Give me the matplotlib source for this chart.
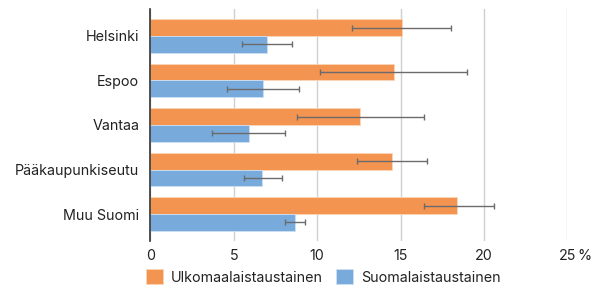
import matplotlib
matplotlib.use("Agg")
import matplotlib.pyplot as plt
import numpy as np

categories = ["Helsinki", "Espoo", "Vantaa", "Pääkaupunkiseutu", "Muu Suomi"]
series_names = ["Ulkomaalaistaustainen", "Suomalaistaustainen"]
ulko_values = [15.1, 14.6, 12.6, 14.5, 18.4]
ulko_low = [12.1, 10.2, 8.8, 12.4, 16.4]
ulko_high = [18.0, 19.0, 16.4, 16.6, 20.6]
suomi_values = [7.0, 6.75, 5.9, 6.7, 8.65]
suomi_low = [5.5, 4.6, 3.7, 5.6, 8.1]
suomi_high = [8.5, 8.9, 8.1, 7.9, 9.25]
xticks = [0, 5, 10, 15, 20, 25]
xtick_labels = ["0", "5", "10", "15", "20", "25"]
unit_label = "%"

plt.rcParams['font.family'] = ['Inter', 'DejaVu Sans']

fig = plt.figure(figsize=(5.93, 2.89), dpi=100)
ax = fig.add_axes([0.2535, 0.167, 0.9567 - 0.2535, 0.968 - 0.167])

y = np.arange(len(categories))
h = 0.38
orange = "#F39450"
blue = "#78AADB"
errc = "#6b6b6b"
txtc = "#222222"

uv = np.array(ulko_values)
sv = np.array(suomi_values)
uerr = [uv - np.array(ulko_low), np.array(ulko_high) - uv]
serr = [sv - np.array(suomi_low), np.array(suomi_high) - sv]

ax.barh(y - h / 2, uv, height=h, color=orange, edgecolor="#fbd5b8", linewidth=0.6,
        label=series_names[0], zorder=2)
ax.barh(y + h / 2, sv, height=h, color=blue, edgecolor="#cfe0f2", linewidth=0.6,
        label=series_names[1], zorder=2)
ax.errorbar(uv, y - h / 2, xerr=uerr, fmt="none", ecolor=errc, elinewidth=1.0,
            capsize=2.5, capthick=1.0, zorder=3)
ax.errorbar(sv, y + h / 2, xerr=serr, fmt="none", ecolor=errc, elinewidth=1.0,
            capsize=2.5, capthick=1.0, zorder=3)

ax.set_xlim(0, 25)
ax.set_ylim(len(categories) - 1 + 0.6, -0.6)
ax.set_yticks(y)
ax.set_yticklabels(categories, fontsize=10.3, color=txtc)
ax.set_xticks(xticks)
ax.set_xticklabels(xtick_labels, fontsize=10.3, color=txtc)
ax.tick_params(axis="both", length=0)
ax.tick_params(axis="y", pad=8)
ax.tick_params(axis="x", pad=6)
ax.annotate(unit_label, xy=(25, 0), xycoords=ax.get_xaxis_transform(),
            xytext=(7.5, -6), textcoords="offset points", ha="left", va="top",
            fontsize=10.3, color=txtc)
for s in ["top", "right", "bottom"]:
    ax.spines[s].set_visible(False)
ax.spines["left"].set_color("#333333")
ax.spines["left"].set_linewidth(1.2)
ax.spines["left"].set_zorder(4)
ax.xaxis.grid(True, color="#cfcfcf", linewidth=1.0, zorder=0)
ax.set_axisbelow(True)

leg = fig.legend(loc="center", bbox_to_anchor=(0.545, 1 - 277 / 289), ncol=2, frameon=False,
                 fontsize=10.3, handlelength=1.2, handleheight=1.2, columnspacing=0.95,
                 handletextpad=0.55, borderpad=0)
for t in leg.get_texts():
    t.set_color(txtc)

fig.savefig("out.png", dpi=100)
